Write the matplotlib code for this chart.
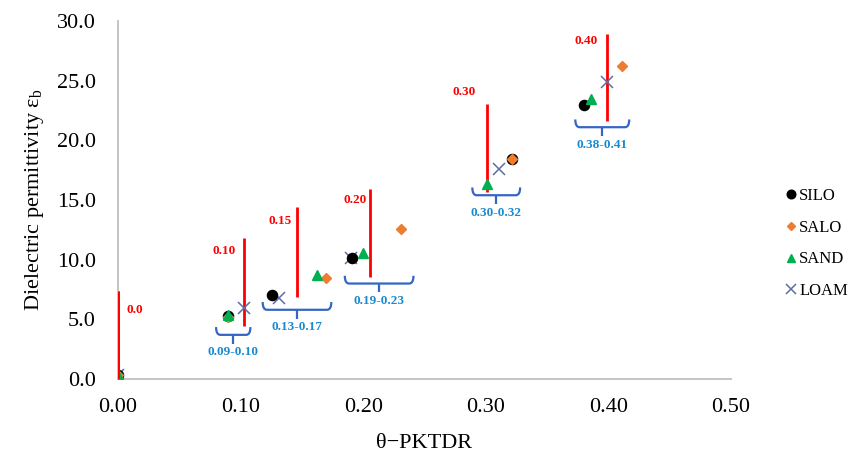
import numpy as np
import matplotlib
matplotlib.use('Agg')
import matplotlib.pyplot as plt
from matplotlib.path import Path
from matplotlib.patches import PathPatch

plt.rcParams['font.family'] = ['Liberation Serif', 'DejaVu Serif']
plt.rcParams['mathtext.fontset'] = 'custom'
plt.rcParams['mathtext.rm'] = 'Liberation Serif'
plt.rcParams['mathtext.it'] = 'Liberation Serif:italic'

# measured points (theta from PKTDR, dielectric permittivity)
silo_x = [0.0, 0.090, 0.126, 0.191, 0.321, 0.380]
silo_y = [0.3, 5.3, 7.0, 10.1, 18.4, 23.0]
salo_x = [0.0, 0.090, 0.170, 0.231, 0.321, 0.411]
salo_y = [0.3, 5.2, 8.5, 12.6, 18.4, 26.2]
sand_x = [0.0, 0.090, 0.162, 0.200, 0.301, 0.386]
sand_y = [0.3, 5.35, 8.7, 10.6, 16.3, 23.5]
loam_x = [0.0, 0.103, 0.131, 0.190, 0.311, 0.399]
loam_y = [0.3, 5.95, 6.8, 10.1, 17.6, 24.9]

# red reference lines (nominal water content)
ref_labels = ['0.0', '0.10', '0.15', '0.20', '0.30', '0.40']
ref_x = [0.0, 0.103, 0.146, 0.2055, 0.3007, 0.399]
ref_lo = [0.0, 4.4, 6.9, 8.55, 15.7, 21.6]
ref_hi = [7.4, 11.85, 14.4, 15.9, 23.05, 28.9]
ref_text_x = [0.007, 0.096, 0.142, 0.203, 0.292, 0.3915]
ref_text_y = [5.8, 10.7, 13.2, 15.0, 24.05, 28.3]

# blue braces with measured ranges
rng_labels = ['0.09-0.10', '0.13-0.17', '0.19-0.23', '0.30-0.32', '0.38-0.41']
rng_lo = [0.080, 0.118, 0.185, 0.289, 0.373]
rng_hi = [0.108, 0.174, 0.241, 0.328, 0.417]
rng_y = [3.7, 5.8, 8.0, 15.4, 21.1]


def draw_brace(ax, x0, x1, y, color):
    r = 0.0035
    h = 0.65
    d = 0.75
    verts = [(x0, y + h), (x0, y), (x0 + r, y), (x1 - r, y), (x1, y), (x1, y + h)]
    codes = [Path.MOVETO, Path.CURVE3, Path.CURVE3, Path.LINETO, Path.CURVE3, Path.CURVE3]
    ax.add_patch(PathPatch(Path(verts, codes), fill=False, edgecolor=color, lw=1.6, zorder=2))
    xm = (x0 + x1) / 2
    ax.plot([xm, xm], [y, y - d], color=color, lw=1.6, zorder=2, solid_capstyle='butt')


fig = plt.figure(figsize=(8.57, 4.63), dpi=100)
ax = fig.add_axes([118 / 857, 1 - 379 / 463, 613 / 857, 358 / 463])

ax.vlines(ref_x, ref_lo, ref_hi, colors='#FF0000', lw=2.0, zorder=2)
for t, x, y in zip(ref_labels, ref_text_x, ref_text_y):
    ha = 'left' if t == '0.0' else 'right'
    ax.text(x, y, t, color='#FF0000', fontsize=9.5, fontweight='bold', ha=ha, va='center')

for t, a, b, y in zip(rng_labels, rng_lo, rng_hi, rng_y):
    draw_brace(ax, a, b, y, '#3566C4')
    ax.text((a + b) / 2, y - 1.45, t, color='#1A8AD0', fontsize=9.5, fontweight='bold',
            ha='center', va='center')

ax.plot(loam_x, loam_y, 'x', color='#5B6FA3', ms=8, mew=1.1, ls='none', label='LOAM', zorder=3)
ax.plot(silo_x, silo_y, 'o', color='black', ms=7.3, ls='none', label='SILO', zorder=4)
ax.plot(salo_x, salo_y, 'D', color='#ED7D31', ms=5, ls='none', label='SALO', zorder=5)
ax.plot(sand_x, sand_y, '^', color='#00B050', ms=7.3, ls='none', label='SAND', zorder=6)
ax.vlines(ref_x[:1], ref_lo[:1], ref_hi[:1], colors='#FF0000', lw=2.0, zorder=7)

ax.set_xlim(0, 0.5)
ax.set_ylim(0, 30)
ax.set_xticks(np.arange(0, 0.51, 0.1))
ax.set_yticks(np.arange(0, 30.1, 5))
ax.xaxis.set_major_formatter(matplotlib.ticker.FormatStrFormatter('%.2f'))
ax.yaxis.set_major_formatter(matplotlib.ticker.FormatStrFormatter('%.1f'))
ax.tick_params(axis='both', length=0, labelsize=16)
ax.tick_params(axis='x', pad=14)
ax.tick_params(axis='y', pad=16)
for s in ['top', 'right']:
    ax.spines[s].set_visible(False)
for s in ['left', 'bottom']:
    ax.spines[s].set_color('#BFBFBF')
    ax.spines[s].set_linewidth(1.3)
ax.set_xlabel('θ−PKTDR', fontsize=16, labelpad=12)
ax.set_ylabel('Dielectric permittivity ε$_{\\mathrm{b}}$', fontsize=16, labelpad=8)

handles, labels = ax.get_legend_handles_labels()
order = [labels.index(n) for n in ['SILO', 'SALO', 'SAND', 'LOAM']]
fig.legend([handles[i] for i in order], [labels[i] for i in order],
           loc='center left', bbox_to_anchor=(786 / 857, 1 - 243.5 / 463),
           frameon=False, fontsize=12, handlelength=0.6, handletextpad=0.2,
           labelspacing=0.95, borderpad=0, borderaxespad=0, markerscale=0.85)

fig.savefig('out.png', dpi=100)
